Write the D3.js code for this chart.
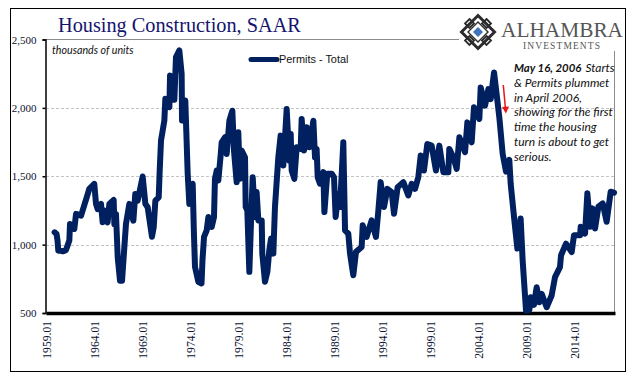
<!DOCTYPE html>
<html>
<head>
<meta charset="utf-8">
<script src="https://cdn.jsdelivr.net/npm/d3@7"></script>
<style>
  html, body { margin: 0; padding: 0; background: #fff; }
  svg { display: block; }
</style>
</head>
<body>
<svg id="chart" width="641" height="381"></svg>
<script>
// data, year as decimal
const yearsA = [1959.9,1960.1,1960.2,1960.28,1960.45,1960.74,1961.08,1961.43,1961.5,1961.95,1962.13,1962.65,1963.24,1963.51,1964.03,1964.21,1964.38,1964.73,1964.9,1965.08,1965.42,1965.6,1966.05,1966.12,1966.29,1966.47,1966.71,1966.92,1967.16,1967.33,1967.68,1968.1,1968.3,1968.55,1969.07,1969.35,1969.59,1970.04,1970.22,1970.39,1970.74,1970.85,1970.98,1971.33,1971.43,1971.85,1971.92,1972.37,1972.54,1972.89,1973.13,1973.17,1973.51,1973.76,1973.93];
const permitsA = [1090,1078,1030,956,956,951,960,1030,1150,1115,1225,1212,1346,1407,1444,1298,1260,1298,1163,1250,1163,1298,1327,1150,1225,907,736,736,980,1150,1298,1175,1371,1322,1498,1298,1273,1058,1127,1322,1346,1554,1761,1908,2066,2005,2237,2059,2371,2420,2249,1908,2054,1517,1298];
const yearsB = [1974.28,1974.4,1974.52,1974.87,1975.2,1975.3,1975.46,1975.74,1975.91,1976.26,1976.5,1976.6,1976.78,1976.95,1977.19,1977.3,1977.65,1977.82,1978.1,1978.41,1978.58,1978.86,1979.03,1979.2,1979.38,1979.73,1979.8,1979.97,1980.18,1980.35,1980.53,1980.77,1980.94,1981.12,1981.47,1981.53,1981.81,1982.06,1982.26,1982.44,1982.68,1982.85,1983.2,1983.44,1983.72,1984.07,1984.35,1984.49,1984.59,1984.87,1985.11,1985.53,1985.63,1985.88,1986.15,1986.43,1986.85,1987.02,1987.19,1987.3,1987.54,1987.89,1988.0,1988.3,1988.76,1989.0,1989.17,1989.45,1989.63,1989.97,1990.15,1990.49,1990.67,1991.01,1991.29];
const permitsB = [1445,1104,837,728,716,886,1056,1104,1202,1129,1202,1481,1542,1469,1651,1748,1785,1663,1906,1979,1688,1457,1821,1481,1688,1639,1275,1250,801,1153,1493,1202,1384,1177,1177,934,728,801,959,1044,934,1275,1639,1797,1578,1991,1615,1809,1542,1481,1712,1700,1918,1688,1858,1712,1906,1639,1700,1493,1445,1530,1238,1518,1518,1493,1202,1372,1275,1748,1104,1080,934,776,947];
const yearsC = [1991.88,1991.99,1992.4,1992.92,1993.37,1993.62,1993.86,1994.21,1994.56,1995.01,1995.25,1995.63,1996.22,1996.74,1997.09,1997.44,1997.78,1998.03,1998.37,1998.72,1999.17,1999.62,1999.97,2000.39,2000.91,2001.01,2001.43,2001.78,2002.06,2002.65,2002.89,2003.34,2003.58,2004.14,2004.28,2004.73,2005.08,2005.32,2005.67,2005.94,2006.22,2006.57,2006.92,2007.26,2007.4,2007.75,2008.1,2008.44,2008.65,2009.0,2009.35,2009.49,2009.83,2010.11,2010.39,2010.63,2011.15,2011.67,2012.02,2012.54,2012.65,2013.17,2013.76,2014.0,2014.63,2014.7,2015.15,2015.39,2015.67,2015.92,2016.19,2016.54,2016.99,2017.4,2017.82,2018.17];
const permitsC = [983,1141,1056,1177,1056,1250,1457,1275,1408,1384,1226,1420,1457,1360,1445,1408,1493,1651,1542,1736,1724,1542,1724,1530,1530,1700,1639,1554,1785,1676,1894,1748,2004,1919,2149,2016,2137,2064,2259,2101,1931,1663,1534,1620,1448,1203,971,1191,885,517,522,615,560,689,579,640,542,628,762,836,922,1007,946,1069,1069,1130,1081,1375,1130,1265,1118,1277,1301,1167,1387,1380];

const yTicks = [500, 1000, 1500, 2000, 2500];
const xTicks = [1959, 1964, 1969, 1974, 1979, 1984, 1989, 1994, 1999, 2004, 2009, 2014];
const noteLines = ["& Permits plummet", "in April 2006,", "showing for the first", "time the housing", "turn is about  to get", "serious."];

const navy = "#002060";
const serif = "'Liberation Serif', serif";
const svg = d3.select("#chart");

const padding = { top: 39.5, right: 26, bottom: 68, left: 46 };
const svgWidth = 641, svgHeight = 381;

const xScale = d3.scaleLinear().domain([1959, 2018.27]).range([padding.left, svgWidth - padding.right]);
const yScale = d3.scaleLinear().domain([500, 2500]).range([svgHeight - padding.bottom, padding.top]);

// outer frame
svg.append("rect").attr("x", 10.5).attr("y", 8.5).attr("width", 615).attr("height", 363)
   .attr("fill", "#fff").attr("stroke", "#000").attr("stroke-width", 1);

// gridlines
svg.append("g").selectAll("line").data(yTicks.slice(1, 4)).join("line")
   .attr("x1", padding.left).attr("x2", svgWidth - padding.right)
   .attr("y1", d => Math.round(yScale(d)) + 0.5).attr("y2", d => Math.round(yScale(d)) + 0.5)
   .attr("stroke", "#c4c4c4").attr("stroke-dasharray", "3 2");

// plot edges, grey on top and right (top stops where the logo starts)
svg.append("line").attr("x1", 45).attr("x2", 459).attr("y1", 39.5).attr("y2", 39.5).attr("stroke", "#8c8c8c");
svg.append("line").attr("x1", 614.5).attr("x2", 614.5).attr("y1", 51).attr("y2", 314).attr("stroke", "#8c8c8c");

// y axis
const yAxis = svg.append("g")
   .attr("transform", `translate(${padding.left - 0.5},0)`)
   .call(d3.axisLeft(yScale).tickValues(yTicks).tickFormat(d3.format(",")).tickSize(3).tickPadding(6));
yAxis.selectAll(".tick text").attr("font-family", serif).attr("font-size", 11).attr("fill", "#0b1230");
yAxis.selectAll("line, path").attr("stroke", "#000").attr("stroke-width", 1.5);

// x axis, labels turned upright
const xAxis = svg.append("g")
   .attr("transform", `translate(0,${svgHeight - padding.bottom})`)
   .call(d3.axisBottom(xScale).tickValues(xTicks).tickFormat(d => `${d}.01`).tickSize(0));
xAxis.select("path").attr("stroke", "#000").attr("stroke-width", 3.5);
xAxis.selectAll(".tick text")
   .attr("font-family", serif).attr("font-size", 11.6).attr("fill", "#0b1230")
   .attr("text-anchor", "end").attr("dy", "0.35em")
   .attr("transform", "translate(0,8) rotate(-90)").attr("x", 0).attr("y", 0);

// permits line
const years = [...yearsA, ...yearsB, ...yearsC];
const permits = [...permitsA, ...permitsB, ...permitsC];
const line = d3.line().x(d => xScale(d[0])).y(d => yScale(d[1]));
svg.append("path").datum(d3.zip(years, permits))
   .attr("d", line).attr("fill", "none").attr("stroke", navy)
   .attr("stroke-width", 6).attr("stroke-linejoin", "round").attr("stroke-linecap", "round");

// title
svg.append("text").attr("x", 58).attr("y", 32).text("Housing Construction, SAAR")
   .attr("font-family", serif).attr("font-size", 20.3).attr("fill", "#14146e");

// units note
svg.append("text").attr("x", 52).attr("y", 54).text("thousands of units")
   .attr("font-family", "Lato, sans-serif").attr("font-style", "italic").attr("font-size", 10.7).attr("fill", "#111");

// legend
svg.append("line").attr("x1", 251).attr("x2", 277).attr("y1", 59.5).attr("y2", 59.5)
   .attr("stroke", navy).attr("stroke-width", 5).attr("stroke-linecap", "round");
svg.append("text").attr("x", 279).attr("y", 63).text("Permits - Total")
   .attr("font-family", "'Liberation Sans', sans-serif").attr("font-size", 10.9).attr("fill", "#111");

// annotation
const note = svg.append("g").attr("font-family", "Lato, sans-serif").attr("font-style", "italic")
   .attr("font-size", 12).attr("fill", "#111");
const firstLine = note.append("text").attr("x", 514).attr("y", 72);
firstLine.append("tspan").attr("font-weight", "bold").attr("font-size", 11.4).text("May 16, 2006");
firstLine.append("tspan").attr("dx", 4).text("Starts");
note.selectAll("text.rest").data(noteLines).join("text").attr("class", "rest")
   .attr("x", 514).attr("y", (d, i) => 87 + i * 14.7).text(d => d);

// red arrow
svg.append("line").attr("x1", 503.3).attr("y1", 85).attr("x2", 505.4).attr("y2", 108)
   .attr("stroke", "#e8141c").attr("stroke-width", 1.5);
svg.append("path").attr("d", "M502,107 L509,106.5 L505.9,113.5 Z").attr("fill", "#e8141c");

// logo
const logo = svg.append("g").attr("transform", "translate(478,32)");
const ink = "#2b2b2b";
logo.append("path").attr("d", "M0,-16.5 L16.5,0 L0,16.5 L-16.5,0 Z").attr("fill", "none").attr("stroke", ink).attr("stroke-width", 3);
[[-8.5, -8.5], [8.5, -8.5], [-8.5, 8.5], [8.5, 8.5]].forEach(c => {
    logo.append("path").attr("d", "M0,-4.5 L4.5,0 L0,4.5 L-4.5,0 Z")
        .attr("transform", `translate(${c[0]},${c[1]})`)
        .attr("fill", "none").attr("stroke", ink).attr("stroke-width", 1.8);
});
logo.append("path").attr("d", "M0,-10 L10,0 L0,10 L-10,0 Z").attr("fill", "none").attr("stroke", ink).attr("stroke-width", 1.4);
logo.append("path").attr("d", "M0,-5 L5,0 L0,5 L-5,0 Z").attr("fill", "#3f74bd");
svg.append("text").attr("x", 501).attr("y", 37).text("ALHAMBRA")
   .attr("font-family", serif).attr("font-size", 21).attr("fill", "#555")
   .attr("textLength", 122).attr("lengthAdjust", "spacingAndGlyphs");
svg.append("text").attr("x", 523).attr("y", 48.5).text("INVESTMENTS")
   .attr("font-family", serif).attr("font-size", 9.5).attr("fill", "#555")
   .attr("textLength", 77).attr("lengthAdjust", "spacing");
</script>
</body>
</html>
